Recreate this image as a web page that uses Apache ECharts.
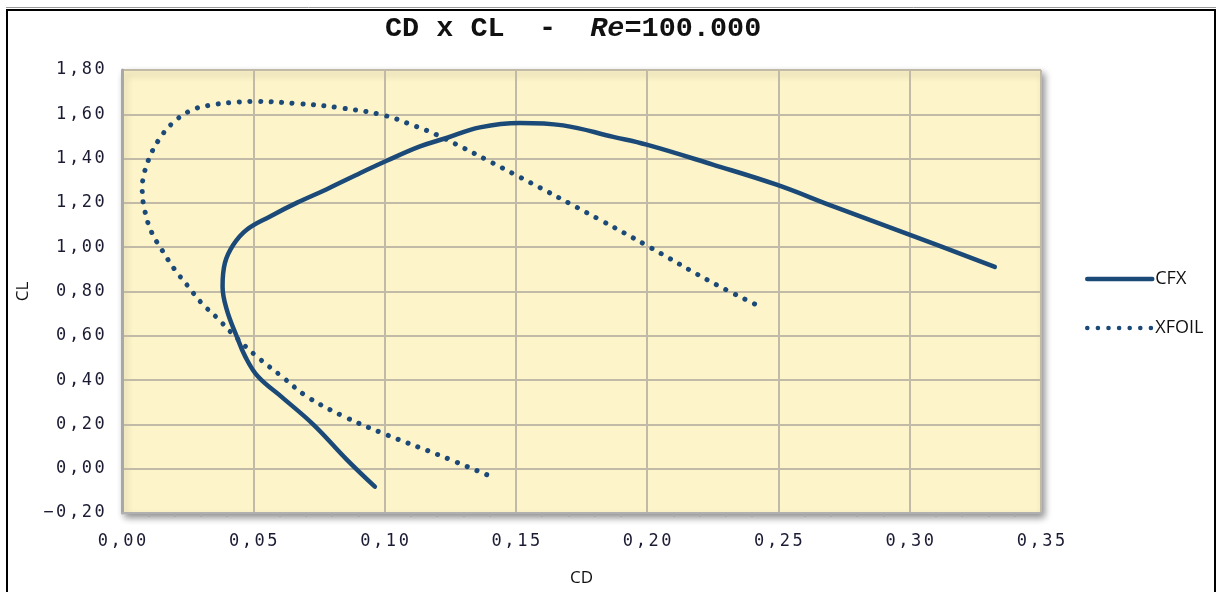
<!DOCTYPE html>
<html><head><meta charset="utf-8">
<script src="https://cdn.jsdelivr.net/npm/echarts@6/dist/echarts.min.js"></script>
<style>html,body{margin:0;padding:0;background:#fff}#c{width:1222px;height:592px}</style>
</head><body><div id="c"></div>
<script>
const cfxCD = [0.0963,0.0856,0.0729,0.0610,0.0518,0.0470,0.0437,0.0399,0.0383,0.0392,0.0424,0.0475,0.0564,0.0665,0.0780,0.0890,0.1008,0.1135,0.1236,0.1363,0.1516,0.1680,0.1871,0.1998,0.2250,0.2493,0.2709,0.3001,0.3324];
const cfxCL = [-0.081,0.041,0.199,0.322,0.416,0.505,0.597,0.718,0.823,0.929,1.011,1.079,1.139,1.200,1.262,1.325,1.390,1.455,1.493,1.541,1.561,1.550,1.498,1.463,1.373,1.282,1.184,1.056,0.911];
const xfoilCD = [0.1389,0.1198,0.1008,0.0852,0.0707,0.0608,0.0510,0.0424,0.0363,0.0303,0.0252,0.0199,0.0154,0.0113,0.0088,0.0077,0.0080,0.0104,0.0142,0.0195,0.0263,0.0330,0.0425,0.0506,0.0673,0.0838,0.1002,0.1120,0.1198,0.1490,0.1820,0.1998,0.2252,0.2442];
const xfoilCL = [-0.027,0.066,0.153,0.232,0.324,0.417,0.510,0.605,0.680,0.748,0.823,0.902,0.984,1.067,1.159,1.260,1.308,1.403,1.488,1.563,1.618,1.640,1.654,1.658,1.648,1.628,1.594,1.545,1.508,1.332,1.124,1.008,0.838,0.725];
const seriesNames = ['CFX','XFOIL'];
const titleMain = 'CD x CL  -  ';
const titleRe = 'Re';
const titleVal = '=100.000';

const zip = (a,b) => a.map((v,i)=>[v,b[i]]);
const col = '#1c4a78';
const chart = echarts.init(document.getElementById('c'));
const mono = '"DejaVu Sans Mono", "Liberation Mono", monospace';
const sans = '"Open Sans", "Liberation Sans", sans-serif';
const spread = s => s.split('').map(ch => '{c|' + ch + '}').join('');
const fmt = v => spread(v.toFixed(2).replace('.', ',').replace('-', '−'));
const labRich = {c:{width:12.8, align:'center', fontFamily:mono, fontSize:17, color:'#1b1b33'}};
chart.setOption({
  animation:false,
  backgroundColor:'#fff',
  title:{
    text:'{a|' + titleMain + '}{i|' + titleRe + '}{a|' + titleVal + '}',
    left:380, top:9,
    textStyle:{rich:{
      a:{fontFamily:'"Liberation Mono", monospace',fontSize:28.5,fontWeight:'bold',color:'#111'},
      i:{fontFamily:'"Liberation Mono", monospace',fontSize:28.5,fontStyle:'italic',color:'#111'}
    }}
  },
  legend:{
    orient:'vertical', left:1080, top:265, itemGap:31, itemWidth:65, itemHeight:14,
    data:seriesNames,
    itemStyle:{opacity:0},
    lineStyle:{width:4.5},
    textStyle:{fontFamily:sans,fontSize:18,color:'#111',padding:[0,0,0,-2]}
  },
  grid:{left:122,right:181,top:70,bottom:79,show:true,backgroundColor:'#fdf4c9',borderColor:'#aaa',borderWidth:1,
    shadowColor:'rgba(0,0,0,0.45)',shadowBlur:7,shadowOffsetX:3,shadowOffsetY:4},
  xAxis:{
    type:'value', min:0, max:0.35, interval:0.05,
    name:'CD', nameLocation:'middle', nameGap:57,
    nameTextStyle:{fontFamily:sans,fontSize:17,color:'#111'},
    axisLine:{show:true,onZero:false,lineStyle:{color:'#b0b0b0',width:2}},
    axisTick:{show:false},
    minorTick:{show:true,splitNumber:5,length:4,lineStyle:{color:'#aaa',width:2}},
    splitLine:{show:true,lineStyle:{color:'#c1baa6',width:2}},
    axisLabel:{margin:20,formatter:fmt,rich:labRich}
  },
  yAxis:{
    type:'value', min:-0.2, max:1.8, interval:0.2,
    name:'CL', nameLocation:'middle', nameGap:90, nameRotate:90,
    nameTextStyle:{fontFamily:sans,fontSize:17,color:'#111'},
    axisLine:{show:true,onZero:false,lineStyle:{color:'#a8a8a8',width:3}},
    axisTick:{show:false},
    splitLine:{show:true,lineStyle:{color:'#c1baa6',width:2}},
    axisLabel:{margin:16,formatter:fmt,rich:labRich}
  },
  graphic:[
    {type:'line',shape:{x1:6,y1:7.5,x2:1216,y2:7.5},style:{stroke:'#999',lineWidth:1},silent:true},
    {type:'rect',shape:{x:7,y:10,width:1208,height:600},style:{fill:'none',stroke:'#000',lineWidth:2},silent:true}
  ],
  series:[
    {name:seriesNames[0],type:'line',data:zip(cfxCD,cfxCL),smooth:0.4,showSymbol:false,symbol:'none',
      lineStyle:{color:col,width:4.5,cap:'round'},itemStyle:{color:col}},
    {name:seriesNames[1],type:'line',data:zip(xfoilCD,xfoilCL),smooth:0.4,showSymbol:false,symbol:'none',
      lineStyle:{color:col,width:5,type:[0.1,10.5],cap:'round'},itemStyle:{color:col}}
  ]
});
</script></body></html>
